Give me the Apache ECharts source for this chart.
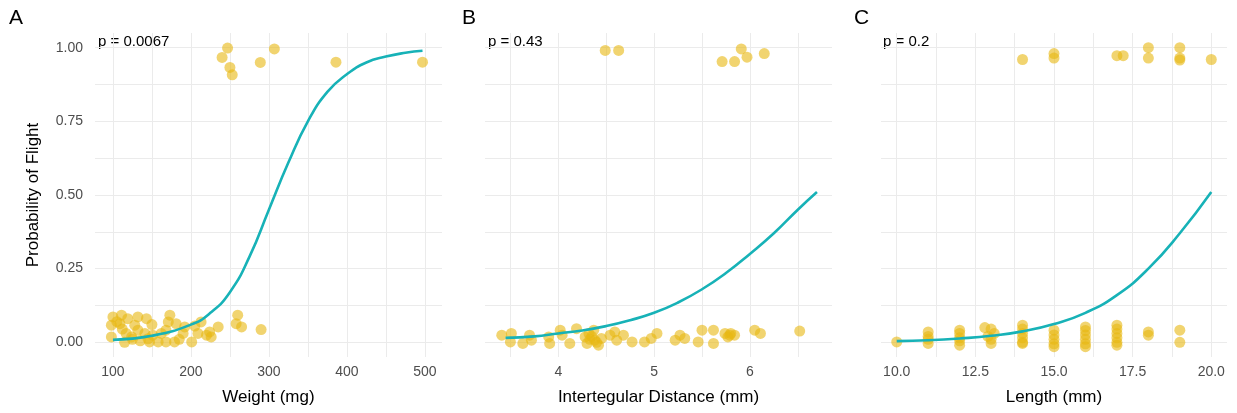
<!DOCTYPE html>
<html>
<head>
<meta charset="utf-8">
<script src="https://cdn.jsdelivr.net/npm/echarts@6.0.0/dist/echarts.min.js"></script>
<style>
  html, body { margin: 0; padding: 0; background: #fff; }
  #chart { width: 1237px; height: 413px; }
</style>
</head>
<body>
<div id="chart"></div>
<script>
// ---- data ----
// panel A: weight (mg)
const weightPoints = [
  [247, 0.999], [240, 0.967], [250, 0.933], [253, 0.908], [289, 0.95], [307, 0.996], [386, 0.951], [497, 0.951],
  [100, 0.086], [111, 0.092], [98, 0.058], [109, 0.063], [119, 0.08], [98, 0.018], [117, 0.03], [115, 0.0],
  [132, 0.086], [143, 0.08], [128, 0.058], [132, 0.041], [124, 0.018], [141, 0.03], [151, 0.024], [147, 0.001],
  [158, 0.001], [168, 0.001], [179, 0.001], [162, 0.03], [173, 0.092], [171, 0.069], [181, 0.063], [168, 0.041],
  [192, 0.052], [190, 0.03], [201, 0.001], [213, 0.069], [209, 0.03], [220, 0.024], [224, 0.035], [235, 0.052],
  [226, 0.018], [260, 0.092], [258, 0.063], [265, 0.052], [290, 0.043],
  [105, 0.07], [112, 0.045], [125, 0.01], [135, 0.005], [145, 0.012], [150, 0.06], [185, 0.01], [205, 0.055]
];
const weightCurveX = [100, 150, 200, 225, 250, 275, 300, 325, 350, 375, 400, 425, 450, 475, 497];
const weightCurveY = [0.008, 0.022, 0.06, 0.1, 0.17, 0.29, 0.45, 0.61, 0.75, 0.85, 0.91, 0.95, 0.97, 0.983, 0.99];
const weightTicks = [100, 200, 300, 400, 500];
const weightMinor = [150, 250, 350, 450];

// panel B: intertegular distance (mm)
const itdPoints = [
  [4.49, 0.991], [4.63, 0.991], [5.91, 0.996], [5.71, 0.953], [5.84, 0.953], [5.97, 0.968], [6.15, 0.98],
  [3.41, 0.024], [3.51, 0.03], [3.50, 0.001], [3.63, -0.004], [3.70, 0.024], [3.72, 0.007], [3.90, 0.018],
  [3.91, -0.004], [4.02, 0.041], [4.04, 0.024], [4.12, -0.004], [4.19, 0.046], [4.28, 0.018], [4.30, -0.004],
  [4.37, 0.041], [4.38, 0.007], [4.42, -0.01], [4.45, 0.013], [4.54, 0.024], [4.59, 0.035], [4.61, 0.007],
  [4.68, 0.024], [4.77, 0.001], [4.90, 0.001], [4.97, 0.013], [5.03, 0.03], [4.33, 0.01], [4.35, 0.02],
  [4.40, 0.0], [4.32, 0.03],
  [5.22, 0.007], [5.27, 0.024], [5.32, 0.013], [5.46, 0.001], [5.50, 0.041], [5.62, 0.041], [5.62, -0.004],
  [5.74, 0.03], [5.79, 0.024], [5.84, 0.024], [5.80, 0.03], [5.77, 0.018], [6.05, 0.041], [6.11, 0.03], [6.52, 0.038]
];
const itdCurveX = [3.45, 3.75, 4.0, 4.25, 4.5, 4.75, 5.0, 5.25, 5.5, 5.75, 6.0, 6.25, 6.5, 6.7];
const itdCurveY = [0.015, 0.02, 0.03, 0.04, 0.055, 0.075, 0.10, 0.135, 0.18, 0.235, 0.30, 0.37, 0.45, 0.51];
const itdTicks = [4, 5, 6];
const itdMinor = [3.5, 4.5, 5.5, 6.5];

// panel C: length (mm)
const lengthPoints = [
  [14, 0.96], [15, 0.98], [15, 0.965], [17, 0.973], [17.2, 0.973], [18, 1.0], [18, 0.965], [19, 1.0], [19, 0.965], [19, 0.958], [20, 0.96],
  [10, 0.001],
  [11, 0.035], [11, 0.02], [11, 0.01], [11, -0.004],
  [12, 0.041], [12, 0.03], [12, 0.015], [12, 0.005], [12, -0.01],
  [12.8, 0.05], [12.9, 0.02], [13, 0.045], [13.1, 0.03], [13, 0.01], [13, -0.004],
  [14, 0.058], [14, 0.045], [14, 0.03], [14, 0.015], [14, 0.0], [14, -0.004],
  [15, 0.041], [15, 0.025], [15, 0.01], [15, -0.005], [15, -0.015],
  [16, 0.052], [16, 0.04], [16, 0.025], [16, 0.01], [16, -0.005], [16, -0.015],
  [17, 0.058], [17, 0.045], [17, 0.03], [17, 0.015], [17, 0.0], [17, -0.01],
  [18, 0.035], [18, 0.024],
  [19, 0.041], [19, 0.0]
];
const lengthCurveX = [10, 11, 12, 13, 14, 15, 16, 17, 18, 19, 20];
const lengthCurveY = [0.004, 0.007, 0.013, 0.022, 0.037, 0.062, 0.1, 0.16, 0.25, 0.37, 0.51];
const lengthTicks = [10, 12.5, 15, 17.5, 20];
const lengthMinor = [11.25, 13.75, 16.25, 18.75];

const probTicks = [0, 0.25, 0.5, 0.75, 1];
const probMinor = [0.125, 0.375, 0.625, 0.875];

const panelTags = ['A', 'B', 'C'];
const pValues = ['p = 0.0067', 'p = 0.43', 'p = 0.2'];

// ---- styling ----
const FONT = '"Liberation Sans", Arial, sans-serif';
const POINT = '#E8B710';
const CURVE = '#17B2B7';
const GRID_LINE = '#EBEBEB';

const grids = [
  { left: 95, top: 33, width: 347, height: 324, outerBoundsMode: 'none' },
  { left: 485, top: 33, width: 347, height: 324, outerBoundsMode: 'none' },
  { left: 881, top: 33, width: 346, height: 324, outerBoundsMode: 'none' }
];

function xAxisFor(i, name, min, max, major, minor, fmt) {
  return {
    type: 'value', gridIndex: i, min: min, max: max,
    name: name, nameLocation: 'middle', nameGap: 32,
    nameTextStyle: { color: '#000', fontSize: 17, fontFamily: FONT },
    axisLine: { show: false },
    axisTick: { show: false, customValues: major.concat(minor) },
    axisLabel: { customValues: major, color: '#4D4D4D', fontSize: 14, margin: 8, fontFamily: FONT, formatter: fmt },
    splitLine: { show: true, lineStyle: { color: GRID_LINE, width: 1 } }
  };
}

function yAxisFor(i) {
  return {
    type: 'value', gridIndex: i, min: -0.05, max: 1.05,
    name: i === 0 ? 'Probability of Flight' : '',
    nameLocation: 'middle', nameGap: 53,
    nameTextStyle: { color: '#000', fontSize: 17, fontFamily: FONT },
    axisLine: { show: false },
    axisTick: { show: false, customValues: probTicks.concat(probMinor) },
    axisLabel: { show: i === 0, customValues: probTicks, color: '#4D4D4D', fontSize: 14, margin: 12, fontFamily: FONT,
      formatter: v => v.toFixed(2) },
    splitLine: { show: true, lineStyle: { color: GRID_LINE, width: 1 } }
  };
}

function zip(xs, ys) { return xs.map((x, k) => [x, ys[k]]); }

function scatterFor(i, pts) {
  return {
    type: 'scatter', xAxisIndex: i, yAxisIndex: i, data: pts,
    symbolSize: 11, itemStyle: { color: POINT, opacity: 0.6 }, z: 2
  };
}
function curveFor(i, pts) {
  return {
    type: 'line', xAxisIndex: i, yAxisIndex: i, data: pts, smooth: true,
    showSymbol: false, lineStyle: { color: CURVE, width: 2.6 }, z: 3
  };
}

const tagX = [9, 462, 854];
const pX = [98, 488, 883];

const graphics = [];
panelTags.forEach((t, i) => {
  graphics.push({ type: 'text', left: tagX[i], top: 8, style: { text: t, fill: '#000', font: '21px ' + FONT } });
  graphics.push({ type: 'text', left: pX[i], top: 34, style: { text: pValues[i], fill: '#000', font: '15px ' + FONT } });
});

const option = {
  animation: false,
  backgroundColor: '#fff',
  textStyle: { fontFamily: FONT },
  grid: grids,
  xAxis: [
    xAxisFor(0, 'Weight (mg)', 77, 522, weightTicks, weightMinor, v => String(v)),
    xAxisFor(1, 'Intertegular Distance (mm)', 3.235, 6.857, itdTicks, itdMinor, v => String(v)),
    xAxisFor(2, 'Length (mm)', 9.5, 20.5, lengthTicks, lengthMinor, v => v.toFixed(1))
  ],
  yAxis: [yAxisFor(0), yAxisFor(1), yAxisFor(2)],
  series: [
    scatterFor(0, weightPoints), curveFor(0, zip(weightCurveX, weightCurveY)),
    scatterFor(1, itdPoints), curveFor(1, zip(itdCurveX, itdCurveY)),
    scatterFor(2, lengthPoints), curveFor(2, zip(lengthCurveX, lengthCurveY))
  ],
  graphic: graphics
};

const myChart = echarts.init(document.getElementById('chart'));
myChart.setOption(option);
</script>
</body>
</html>
